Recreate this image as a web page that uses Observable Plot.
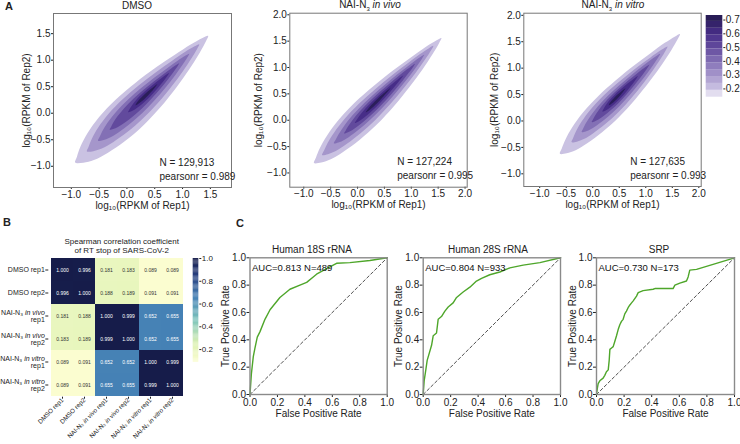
<!DOCTYPE html>
<html><head><meta charset="utf-8">
<script src="https://cdn.jsdelivr.net/npm/d3@7"></script>
<script src="https://cdn.jsdelivr.net/npm/@observablehq/plot@0.6"></script>
<style>
body{margin:0;background:#fff;}
#root{position:relative;width:740px;height:444px;font-family:"Liberation Sans",Arial,sans-serif;color:#222;overflow:hidden;background:#fff;}
.t{position:absolute;white-space:nowrap;transform:translate(-50%,-50%);line-height:1;}
.letter{position:absolute;font-weight:bold;font-size:11px;line-height:1;}
</style></head><body><div id="root"></div>
<script>
// ---------------- DATA ----------------
// Panel A: density contour bands.
// Shared band outline profile: position along the band (0 = lower-left end, 1 = upper-right tip)
// and relative half-thickness on the upper-left and lower-right side.
const profileF     = [0, 0.03, 0.08, 0.16, 0.27, 0.40, 0.54, 0.68, 0.80, 0.90, 0.97, 1];
const profileUpper = [0, 0.16, 0.40, 0.66, 0.86, 0.92, 0.84, 0.68, 0.48, 0.30, 0.12, 0];
const profileLower = [0, 0.30, 0.58, 0.80, 0.98, 1.05, 0.98, 0.80, 0.58, 0.34, 0.13, 0];
const densityLevels = [0.2, 0.3, 0.4, 0.5, 0.6, 0.7];
// per plot: diagonal start, diagonal end and half-thickness of each level
const dmsoStart = [-0.93, -0.72, -0.52, -0.31, 0.02, 0.15];
const dmsoEnd   = [1.46, 1.30, 1.12, 0.94, 0.76, 0.55];
const dmsoWidth = [0.25, 0.185, 0.13, 0.085, 0.05, 0.022];
const vivoStart = [-0.81, -0.66, -0.44, -0.25, -0.05, 0.15];
const vivoEnd   = [1.56, 1.41, 1.24, 1.07, 0.85, 0.62];
const vivoWidth = [0.21, 0.155, 0.11, 0.075, 0.045, 0.02];
const vitroStart = [-0.62, -0.40, -0.21, -0.02, 0.18, 0.30];
const vitroEnd   = [1.645, 1.41, 1.27, 1.07, 0.85, 0.62];
const vitroWidth = [0.20, 0.15, 0.105, 0.07, 0.045, 0.02];
const densityN = ["N = 129,913", "N = 127,224", "N = 127,635"];
const densityR = ["pearsonr = 0.989", "pearsonr = 0.995", "pearsonr = 0.993"];
const densityCbarSteps = [0.14, 0.19, 0.24, 0.29, 0.34, 0.39, 0.44, 0.49, 0.54, 0.59, 0.64, 0.69, 0.733];
const densityCbarTicks = [0.2, 0.3, 0.4, 0.5, 0.6, 0.7];

// Panel B: Spearman correlation matrix
const sampleLabels = ["DMSO rep1", "DMSO rep2", "NAI-N₃ in vivo rep1", "NAI-N₃ in vivo rep2", "NAI-N₃ in vitro rep1", "NAI-N₃ in vitro rep2"];
const rowDmso1  = [1.000, 0.996, 0.181, 0.183, 0.089, 0.089];
const rowDmso2  = [0.996, 1.000, 0.188, 0.189, 0.091, 0.091];
const rowVivo1  = [0.181, 0.188, 1.000, 0.999, 0.652, 0.655];
const rowVivo2  = [0.183, 0.189, 0.999, 1.000, 0.652, 0.655];
const rowVitro1 = [0.089, 0.091, 0.652, 0.652, 1.000, 0.999];
const rowVitro2 = [0.089, 0.091, 0.655, 0.655, 0.999, 1.000];
const hmCbarTicks = [0.2, 0.4, 0.6, 0.8, 1.0];

// Panel C: ROC curves
const fpr18S = [0, 0.010, 0.024, 0.036, 0.053, 0.073, 0.109, 0.146, 0.218, 0.291, 0.364, 0.413, 0.461, 0.485, 0.558, 0.631, 0.728, 0.874, 1];
const tpr18S = [0, 0.150, 0.277, 0.340, 0.420, 0.460, 0.550, 0.620, 0.710, 0.770, 0.800, 0.820, 0.860, 0.880, 0.920, 0.960, 0.965, 0.980, 1];
const fpr28S = [0, 0.007, 0.019, 0.029, 0.061, 0.073, 0.097, 0.109, 0.133, 0.158, 0.182, 0.218, 0.243, 0.291, 0.340, 0.388, 0.425, 0.485, 0.558, 0.631, 0.728, 0.850, 1];
const tpr28S = [0, 0.100, 0.180, 0.250, 0.360, 0.430, 0.450, 0.550, 0.570, 0.610, 0.640, 0.670, 0.710, 0.750, 0.785, 0.830, 0.850, 0.876, 0.896, 0.926, 0.946, 0.965, 1];
const fprSRP = [0, 0.007, 0.012, 0.024, 0.048, 0.060, 0.072, 0.085, 0.092, 0.097, 0.109, 0.121, 0.133, 0.145, 0.157, 0.169, 0.181, 0.193, 0.205, 0.217, 0.229, 0.242, 0.254, 0.266, 0.290, 0.302, 0.338, 0.410, 0.423, 0.555, 0.568, 0.604, 0.652, 0.664, 0.676, 0.725, 1];
const tprSRP = [0, 0.050, 0.080, 0.100, 0.120, 0.140, 0.166, 0.180, 0.250, 0.330, 0.340, 0.350, 0.390, 0.430, 0.475, 0.510, 0.535, 0.550, 0.590, 0.610, 0.635, 0.655, 0.670, 0.685, 0.720, 0.745, 0.760, 0.770, 0.775, 0.775, 0.800, 0.815, 0.830, 0.860, 0.910, 0.915, 1];
const chanceFpr = [0, 1];
const chanceTpr = [0, 1];
const rocTitles = ["Human 18S rRNA", "Human 28S rRNA", "SRP"];
const rocNotes = ["AUC=0.813 N=489", "AUC=0.804 N=933", "AUC=0.730 N=173"];

// ---------------- DRAWING ----------------
const root = document.getElementById("root");
const FONT = '"Liberation Sans", Arial, sans-serif';
const baseStyle = {background: "transparent", fontFamily: FONT, fontSize: "10px", color: "#222", overflow: "visible"};
function place(node, left, top) {
  node.style.position = "absolute";
  node.style.left = left + "px";
  node.style.top = top + "px";
  root.appendChild(node);
  return node;
}
function label(htmlText, cx, cy, size, cls = "t") {
  const d = document.createElement("div");
  d.className = cls;
  d.innerHTML = htmlText;
  d.style.left = cx + "px";
  d.style.top = cy + "px";
  d.style.fontSize = size + "px";
  root.appendChild(d);
  return d;
}

const purple = {type: "linear", domain: [0.14, 0.2, 0.3, 0.4, 0.5, 0.6, 0.733],
  range: ["#f3f1f9", "#cac2e2", "#a596cb", "#8370b5", "#624a9d", "#472d88", "#22194c"]};

function bandRows(start, end, width) {
  const rows = [];
  densityLevels.forEach((v, i) => {
    const d0 = start[i], d1 = end[i], w = width[i];
    profileF.forEach((f, k) => {
      const d = d0 + f * (d1 - d0), t = profileUpper[k] * w;
      rows.push({x: d - t, y: d + t, level: v});
    });
    for (let k = profileF.length - 2; k >= 1; k--) {
      const d = d0 + profileF[k] * (d1 - d0), t = profileLower[k] * w;
      rows.push({x: d + t, y: d - t, level: v});
    }
  });
  return rows;
}

function densityPlot(o) {
  return Plot.plot({
    width: o.width, height: 215,
    marginLeft: o.mL, marginRight: o.mR, marginTop: o.mT, marginBottom: o.mB,
    style: baseStyle,
    x: {domain: o.xDomain, ticks: o.xTicks, tickFormat: ".1f", tickSize: 2, tickPadding: 1,
        label: "log₁₀(RPKM of Rep1)", labelAnchor: "center", labelArrow: false, labelOffset: 21},
    y: {domain: o.yDomain, ticks: o.yTicks, tickFormat: ".1f", tickSize: 2, tickPadding: 1,
        label: "log₁₀(RPKM of Rep2)", labelAnchor: "center", labelArrow: false, labelOffset: o.yLabelOffset},
    color: purple,
    marks: [
      Plot.line(o.rows, {x: "x", y: "y", z: "level", fill: "level", stroke: "none", curve: "catmull-rom-closed"}),
      Plot.frame({stroke: "#777", strokeWidth: 1}),
      Plot.text([o.n], {text: d => d, frameAnchor: "bottom-right", textAnchor: "start", dx: o.tdx, dy: -22, fontSize: 10, fill: "#222"}),
      Plot.text([o.r], {text: d => d, frameAnchor: "bottom-right", textAnchor: "start", dx: o.tdx, dy: -8, fontSize: 10, fill: "#222"})
    ]
  });
}

const ticksA = [-1, -0.5, 0, 0.5, 1, 1.5];
const ticksB = [-1, -0.5, 0, 0.5, 1, 1.5, 2];
place(densityPlot({width: 240, mL: 53, mR: 9, mT: 13, mB: 28, xDomain: [-1.32, 1.88], yDomain: [-1.40, 1.88],
  xTicks: ticksA, yTicks: ticksA, yLabelOffset: 31, tdx: -72, n: densityN[0], r: densityR[0],
  rows: bandRows(dmsoStart, dmsoEnd, dmsoWidth)}), 0, 0);
place(densityPlot({width: 235, mL: 49.3, mR: 8.3, mT: 12.7, mB: 28.3, xDomain: [-1.26, 2.04], yDomain: [-1.27, 2.03],
  xTicks: ticksB, yTicks: ticksB, yLabelOffset: 35, tdx: -70, n: densityN[1], r: densityR[1],
  rows: bandRows(vivoStart, vivoEnd, vivoWidth)}), 240, 0);
place(densityPlot({width: 230, mL: 45.3, mR: 7.3, mT: 12.7, mB: 29, xDomain: [-1.30, 2.045], yDomain: [-1.24, 2.04],
  xTicks: ticksB, yTicks: ticksB, yLabelOffset: 33, tdx: -71, n: densityN[2], r: densityR[2],
  rows: bandRows(vitroStart, vitroEnd, vitroWidth)}), 478, 0);

// density colour bar
const dSteps = densityCbarSteps.slice(0, -1).map((s, i) => ({y1: s, y2: densityCbarSteps[i + 1], v: (s + densityCbarSteps[i + 1]) / 2}));
place(Plot.plot({
  width: 40, height: 95, marginLeft: 5.7, marginRight: 17.7, marginTop: 10, marginBottom: 3.3,
  style: baseStyle,
  x: {domain: [0, 1], axis: null},
  y: {domain: [0.14, 0.733], axis: "right", ticks: densityCbarTicks, tickFormat: ".1f", tickSize: 2, tickPadding: 1, label: null},
  color: purple,
  marks: [Plot.rect(dSteps, {x1: 0, x2: 1, y1: "y1", y2: "y2", fill: "v"})]
}), 700, 5);

label("DMSO", 137, 6, 10);
label("NAI-N<sub style='font-size:6px'>3</sub> <i>in vivo</i>", 370, 6, 10);
label("NAI-N<sub style='font-size:6px'>3</sub> <i>in vitro</i>", 613, 6, 10);

// ---------- Panel B heatmap ----------
const hmMatrix = [rowDmso1, rowDmso2, rowVivo1, rowVivo2, rowVitro1, rowVitro2];
const hmRows = [];
hmMatrix.forEach((r, i) => r.forEach((v, j) => hmRows.push({row: sampleLabels[i], col: sampleLabels[j], value: v})));
const hmColor = {type: "linear", domain: [0.089, 0.25, 0.45, 0.65, 0.85, 1.0],
  range: ["#fbfdd0", "#dcf1b2", "#80c6bb", "#4683b6", "#273f7e", "#161c4a"]};

function italicize(svg) {
  const walker = document.createTreeWalker(svg, NodeFilter.SHOW_TEXT);
  const nodes = [];
  while (walker.nextNode()) nodes.push(walker.currentNode);
  for (const n of nodes) {
    const s = n.nodeValue;
    const m = s.match(/in vi(vo|tro)/);
    if (!m) continue;
    const p = n.parentNode;
    const ts = document.createElementNS("http://www.w3.org/2000/svg", "tspan");
    ts.setAttribute("font-style", "italic");
    ts.textContent = m[0];
    p.insertBefore(document.createTextNode(s.slice(0, m.index)), n);
    p.insertBefore(ts, n);
    p.insertBefore(document.createTextNode(s.slice(m.index + m[0].length)), n);
    p.removeChild(n);
  }
}

const hm = Plot.plot({
  width: 190, height: 214, marginLeft: 48.3, marginRight: 5, marginTop: 27.7, marginBottom: 47.3,
  style: {...baseStyle, fontSize: "7px"},
  x: {domain: sampleLabels, padding: 0, label: null},
  y: {domain: sampleLabels, padding: 0, label: null},
  color: hmColor,
  marks: [
    Plot.cell(hmRows, {x: "col", y: "row", fill: "value", inset: 0}),
    Plot.text(hmRows, {x: "col", y: "row", text: d => d.value.toFixed(3), fontSize: 5,
      fill: d => d.value > 0.5 ? "#ffffff" : "#333333"}),
    Plot.axisX({tickRotate: -45, tickSize: 2, tickPadding: 0, fontSize: 6.3, label: null}),
    Plot.axisY({tickSize: 3, tickPadding: 1, fontSize: 7, label: null,
      tickFormat: d => d.startsWith("NAI") ? d.replace(" rep", "\nrep") : d})
  ]
});
italicize(hm);
place(hm, 0, 230);

const hmSteps = d3.range(0.089, 1.0, 0.01).map(s => ({y1: s, y2: Math.min(1.0, s + 0.0105), v: s + 0.005}));
place(Plot.plot({
  width: 40, height: 120, marginLeft: 7.7, marginRight: 26.7, marginTop: 8, marginBottom: 8.3,
  style: {...baseStyle, fontSize: "8px"},
  x: {domain: [0, 1], axis: null},
  y: {domain: [0.089, 1.0], axis: "right", ticks: hmCbarTicks, tickFormat: ".1f", tickSize: 2, tickPadding: 1, label: null},
  color: hmColor,
  marks: [Plot.rect(hmSteps, {x1: 0, x2: 1, y1: "y1", y2: "y2", fill: "v"})]
}), 185, 250);

label("Spearman correlation coefficient", 121.7, 241.5, 8);
label("of RT stop of SARS-CoV-2", 121.7, 250.5, 8);

// ---------- Panel C ROC ----------
function rocPlot(fpr, tpr, note, width, mL, mR) {
  return Plot.plot({
    width, height: 180, marginLeft: mL, marginRight: mR, marginTop: 17.3, marginBottom: 26,
    style: baseStyle,
    x: {domain: [0, 1], ticks: [0, 0.2, 0.4, 0.6, 0.8, 1], tickFormat: ".1f", tickSize: 3, tickPadding: 1,
        label: "False Positive Rate", labelAnchor: "center", labelArrow: false, labelOffset: 22},
    y: {domain: [0, 1], ticks: [0, 0.2, 0.4, 0.6, 0.8, 1], tickFormat: ".1f", tickSize: 3, tickPadding: 1,
        label: "True Positive Rate", labelAnchor: "center", labelArrow: false, labelOffset: 28},
    marks: [
      Plot.line(chanceFpr.map((f, i) => ({f, t: chanceTpr[i]})), {x: "f", y: "t", stroke: "#222", strokeWidth: 0.8, strokeDasharray: "3,2.5"}),
      Plot.line(fpr.map((f, i) => ({f, t: tpr[i]})), {x: "f", y: "t", stroke: "#4ea62a", strokeWidth: 1.4}),
      Plot.frame({stroke: "#8a8a8a", strokeWidth: 1.4}),
      Plot.text([note], {text: d => d, frameAnchor: "top-left", textAnchor: "start", dx: 2, dy: 6, fontSize: 9.5, fill: "#111"})
    ]
  });
}
place(rocPlot(fpr18S, tpr18S, rocNotes[0], 180, 34.5, 8.3), 215, 240);
place(rocPlot(fpr28S, tpr28S, rocNotes[1], 175, 32.7, 5), 390, 240);
place(rocPlot(fprSRP, tprSRP, rocNotes[2], 177, 33, 6), 563, 240);
label(rocTitles[0], 312, 250, 10);
label(rocTitles[1], 488, 250, 10);
label(rocTitles[2], 659, 250, 10);

// panel letters
const la = label("A", 0, 0, 11, "letter"); la.style.left = "5px"; la.style.top = "1px";
const lb = label("B", 0, 0, 11, "letter"); lb.style.left = "3px"; lb.style.top = "217px";
const lc = label("C", 0, 0, 11, "letter"); lc.style.left = "236px"; lc.style.top = "218px";
</script></body></html>
